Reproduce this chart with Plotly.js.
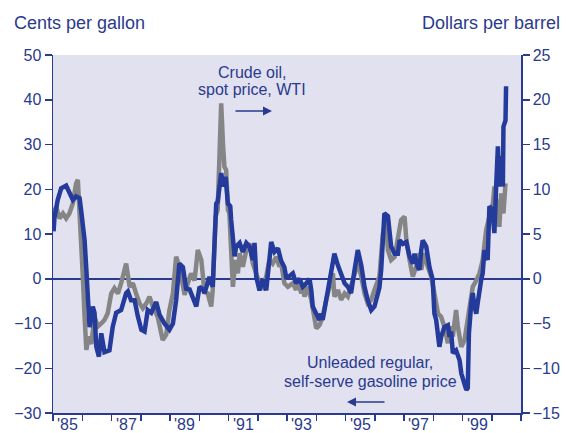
<!DOCTYPE html>
<html>
<head>
<meta charset="utf-8">
<script src="https://cdn.plot.ly/plotly-3.0.1.min.js"></script>
<style>html,body{margin:0;padding:0;background:#fff;}#chart{width:567px;height:433px;}</style>
</head>
<body>
<div id="chart"></div>
<script>
// Crude oil, spot price WTI (dollars per barrel, right axis)
const crudeYears = [1985.02,1985.05,1985.16,1985.28,1985.45,1985.56,1985.68,1985.79,1985.91,1985.96,
1986.08,1986.14,1986.19,1986.25,1986.36,1986.42,1986.48,1986.57,1986.65,1986.76,1986.93,
1987.04,1987.16,1987.33,1987.50,1987.56,1987.67,1987.79,1987.90,
1988.02,1988.13,1988.24,1988.36,1988.53,1988.64,1988.81,1988.98,
1989.10,1989.21,1989.32,1989.44,1989.55,1989.67,1989.78,1989.90,
1990.01,1990.12,1990.18,1990.35,1990.46,1990.58,1990.63,1990.69,1990.75,1990.83,1990.90,1990.98,
1991.06,1991.09,1991.15,1991.21,1991.26,1991.38,1991.49,1991.61,1991.72,1991.83,1991.89,1991.95,
1992.06,1992.17,1992.29,1992.40,1992.46,1992.57,1992.69,1992.80,1992.91,1992.97,
1993.09,1993.20,1993.31,1993.43,1993.54,1993.66,1993.77,1993.83,1993.88,
1994.00,1994.11,1994.17,1994.22,1994.34,1994.45,1994.57,1994.62,1994.74,1994.85,1994.97,
1995.08,1995.19,1995.31,1995.42,1995.54,1995.65,1995.76,1995.88,1995.99,
1996.10,1996.16,1996.22,1996.28,1996.33,1996.45,1996.50,1996.56,1996.68,1996.79,1996.85,1996.96,
1997.08,1997.19,1997.30,1997.36,1997.47,1997.53,1997.59,1997.64,1997.76,1997.87,1997.98,
1998.04,1998.10,1998.16,1998.21,1998.27,1998.38,1998.50,1998.56,1998.61,1998.67,1998.78,1998.90,1998.96,
1999.03,1999.13,1999.18,1999.22,1999.30,1999.35,1999.41,1999.47,1999.52,1999.58,1999.64,1999.69,1999.75,1999.86,1999.92,
2000.02,2000.09,2000.15,2000.21,2000.26,2000.32,2000.38,2000.40,2000.47,2000.49];
const crudePrice = [5.3,6.8,8.8,10.1,10.4,9.7,8.8,9.2,9.0,7.7,
4.3,1.0,-2.4,-5.4,-3.1,-3.8,-7.6,-8.7,-6.1,-8.2,-8.0,
-5.4,-3.8,-3.5,-1.6,-1.4,-2.4,-2.4,-4.2,
-5.7,-5.9,-3.5,-3.8,-2.6,-4.0,-5.0,-5.7,
-5.0,-2.4,1.7,1.3,-1.1,-1.2,-2.0,-3.1,
-0.9,-1.2,-1.6,0.2,-0.9,8.4,8.6,10.7,11.8,10.3,11.4,8.4,
8.1,6.6,4.0,2.5,3.6,4.0,3.0,4.0,3.6,2.1,4.0,0.2,
-1.3,-0.1,-1.3,2.1,4.1,3.0,3.4,2.0,1.3,0.2,
0.3,0.6,-0.5,0.0,-0.9,-0.5,0.0,-1.3,-3.1,
-3.9,-4.6,-3.9,-4.6,-2.4,-0.5,1.5,2.8,1.5,0.6,-0.5,
-0.9,-1.6,1.0,3.2,1.5,-0.9,-2.4,-3.5,-3.1,
-2.0,-1.0,1.0,4.7,7.3,7.0,5.1,3.6,2.8,2.8,4.3,3.9,
4.1,2.5,1.7,2.8,1.3,1.0,3.2,4.3,3.6,1.3,-0.1,
-3.9,-4.6,-6.5,-7.6,-6.5,-5.4,-5.2,-6.5,-5.9,-8.3,-8.0,-9.1,-10.6,
-11.3,-12.4,-12.2,-6.1,-2.7,-1.6,-3.1,-3.9,-2.7,-0.9,-0.1,0.6,3.2,2.1,8.1,
7.7,5.1,10.3,14.8,10.3,13.7,10.3,17.0,17.7,21.5];

// Unleaded regular, self-serve gasoline price (cents per gallon, left axis)
const gasYears = [1985.02,1985.11,1985.22,1985.34,1985.45,1985.56,1985.68,1985.79,1985.85,1985.88,1985.96,
1986.02,1986.08,1986.14,1986.22,1986.31,1986.42,1986.53,1986.65,1986.76,1986.87,1986.99,
1987.10,1987.22,1987.33,1987.44,1987.50,1987.62,1987.73,1987.84,1987.96,
1988.07,1988.19,1988.30,1988.41,1988.58,1988.75,1988.87,1988.98,
1989.10,1989.21,1989.32,1989.44,1989.50,1989.61,1989.72,1989.84,1989.95,
1990.07,1990.18,1990.29,1990.41,1990.46,1990.56,1990.63,1990.69,1990.75,1990.81,1990.86,1990.92,1990.98,
1991.03,1991.09,1991.15,1991.24,1991.32,1991.38,1991.49,1991.61,1991.72,1991.83,1991.95,
1992.06,1992.17,1992.29,1992.40,1992.51,1992.63,1992.74,1992.80,1992.91,
1993.03,1993.20,1993.31,1993.37,1993.49,1993.54,1993.60,1993.71,1993.83,1993.94,
1994.00,1994.11,1994.22,1994.34,1994.45,1994.57,1994.62,1994.74,1994.85,1994.97,
1995.08,1995.19,1995.31,1995.42,1995.54,1995.65,1995.76,1995.88,1995.99,
1996.16,1996.28,1996.33,1996.39,1996.45,1996.56,1996.68,1996.79,1996.90,
1997.02,1997.08,1997.19,1997.30,1997.42,1997.53,1997.59,1997.70,1997.81,1997.93,
1998.04,1998.16,1998.27,1998.38,1998.50,1998.56,1998.67,1998.78,1998.84,1998.96,
1999.07,1999.15,1999.24,1999.35,1999.47,1999.58,1999.69,1999.81,1999.92,
2000.04,2000.09,2000.21,2000.26,2000.32,2000.40,2000.47];
const gasPrice = [14.6,16.1,13.5,14.6,13.5,14.6,16.9,21.3,22.1,18.3,11.6,
0.5,-8.5,-15.9,-12.9,-14.6,-8.5,-10.7,-10.0,-9.2,-7.7,-3.3,
-2.1,-3.3,-1.0,2.0,3.4,-1.8,-1.0,-3.3,-5.5,
-6.6,-5.5,-4.0,-6.2,-8.5,-13.7,-12.5,-7.0,
-3.3,4.9,2.7,-1.8,-3.6,-1.0,1.2,-0.4,6.4,
4.2,-3.0,-3.3,-6.2,-2.5,13.9,15.4,25.0,39.2,30.3,25.0,24.3,15.4,
14.6,6.4,-1.8,4.2,1.2,5.7,2.7,6.4,7.9,3.4,1.2,
-1.0,-1.8,0.5,4.2,3.4,4.9,2.7,3.5,-1.0,
-1.8,-1.0,-2.5,-0.4,-3.3,-2.0,-4.0,-1.8,-4.7,-9.6,
-11.1,-10.4,-8.5,-4.7,-1.8,1.2,-4.0,-2.5,-4.7,-3.3,
-4.0,-1.8,0.5,3.4,0.5,-3.3,-5.5,-4.7,-2.5,
0.5,10.2,11.6,12.4,6.4,4.2,4.9,9.4,13.1,
13.9,8.7,4.2,0.5,2.7,5.7,2.0,5.7,2.7,0.5,
-3.3,-7.7,-8.5,-10.7,-14.4,-10.7,-12.9,-7.0,-10.7,-15.2,
-13.7,-10.7,-6.2,-1.8,-0.4,1.2,4.2,10.9,13.9,
16.9,20.6,15.4,11.6,19.1,14.6,21.3];

const tickYears = [1985,1986,1987,1988,1989,1990,1991,1992,1993,1994,1995,1996,1997,1998,1999,2000,2001];
const labelYears = [1985,1987,1989,1991,1993,1995,1997,1999];
const labelText = ["'85","'87","'89","'91","'93","'95","'97","'99"];

const navy = '#2a3a8e';
const lineBlue = '#243b9b';
const gray = '#858585';
const fontFam = 'Liberation Sans, Arial, sans-serif';

const traces = [
  {x: gasYears, y: gasPrice, type: 'scatter', mode: 'lines', yaxis: 'y',
   line: {color: gray, width: 4.5}, hoverinfo: 'skip'},
  {x: crudeYears, y: crudePrice, type: 'scatter', mode: 'lines', yaxis: 'y2',
   line: {color: lineBlue, width: 4.5}, hoverinfo: 'skip'}
];

const axisFont = {family: fontFam, size: 16, color: navy};

const annotations = [
  {text: 'Cents per gallon', xref: 'paper', yref: 'paper', x: -0.0876, y: 1.0894,
   xanchor: 'left', yanchor: 'middle', showarrow: false, font: {family: fontFam, size: 18, color: navy}},
  {text: 'Dollars per barrel', xref: 'paper', yref: 'paper', x: 1.0876, y: 1.0894,
   xanchor: 'right', yanchor: 'middle', showarrow: false, font: {family: fontFam, size: 18, color: navy}},
  {text: 'Crude oil,', xref: 'paper', yref: 'paper', x: (252 - 53) / 468, y: (413 - 72) / 358,
   xanchor: 'center', yanchor: 'middle', showarrow: false, font: axisFont},
  {text: 'spot price, WTI', xref: 'paper', yref: 'paper', x: (252 - 53) / 468, y: (413 - 89.5) / 358,
   xanchor: 'center', yanchor: 'middle', showarrow: false, font: axisFont},
  {text: '', xref: 'paper', yref: 'paper', x: (272 - 53) / 468, y: (413 - 111) / 358,
   ax: -38, ay: 0, axref: 'pixel', ayref: 'pixel', showarrow: true, arrowhead: 2, arrowsize: 1.2,
   arrowwidth: 1.5, arrowcolor: navy},
  {text: 'Unleaded regular,', xref: 'paper', yref: 'paper', x: (370 - 53) / 468, y: (413 - 362.5) / 358,
   xanchor: 'center', yanchor: 'middle', showarrow: false, font: axisFont},
  {text: 'self-serve gasoline price', xref: 'paper', yref: 'paper', x: (370 - 53) / 468, y: (413 - 381) / 358,
   xanchor: 'center', yanchor: 'middle', showarrow: false, font: axisFont},
  {text: '', xref: 'paper', yref: 'paper', x: (347 - 53) / 468, y: (413 - 402) / 358,
   ax: 39, ay: 0, axref: 'pixel', ayref: 'pixel', showarrow: true, arrowhead: 2, arrowsize: 1.2,
   arrowwidth: 1.5, arrowcolor: navy}
];
labelYears.forEach((yr, i) => {
  annotations.push({text: labelText[i], xref: 'x', yref: 'paper', x: yr + 0.5, y: (413 - 424.5) / 358,
    xanchor: 'center', yanchor: 'middle', showarrow: false, font: axisFont});
});

const layout = {
  width: 567, height: 433,
  margin: {l: 53, r: 46, t: 55, b: 20, pad: 0},
  paper_bgcolor: '#ffffff',
  plot_bgcolor: '#e1e1f0',
  showlegend: false,
  xaxis: {
    range: [1985, 2001], tickvals: tickYears, showticklabels: false,
    ticks: 'outside', ticklen: 6, tickwidth: 1.5, tickcolor: navy,
    showline: true, linecolor: navy, linewidth: 1.5,
    showgrid: false, zeroline: false, fixedrange: true
  },
  yaxis: {
    range: [-30, 50], tick0: 0, dtick: 10,
    ticks: 'outside', ticklen: 7, tickwidth: 1.5, tickcolor: navy,
    showline: true, linecolor: navy, linewidth: 1.5,
    showgrid: false, zeroline: true, zerolinecolor: navy, zerolinewidth: 1.5,
    tickfont: axisFont
  },
  yaxis2: {
    range: [-15, 25], tick0: 0, dtick: 5, overlaying: 'y', side: 'right', anchor: 'x',
    ticks: 'outside', ticklen: 7, tickwidth: 1.5, tickcolor: navy,
    showline: true, linecolor: navy, linewidth: 1.5,
    showgrid: false, zeroline: false,
    tickfont: axisFont
  },
  annotations: annotations
};

Plotly.newPlot('chart', traces, layout, {staticPlot: true, displayModeBar: false});
</script>
</body>
</html>
